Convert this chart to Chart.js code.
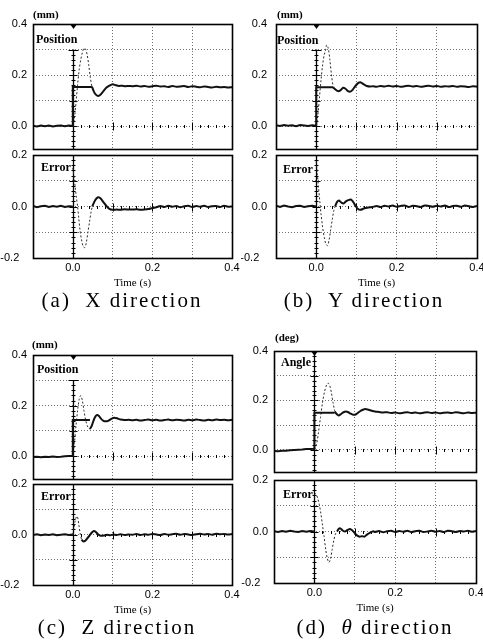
<!DOCTYPE html>
<html><head><meta charset="utf-8">
<script src="https://cdn.jsdelivr.net/npm/chart.js@4"></script>
<style>
html,body{margin:0;padding:0;background:#fff;}
body{width:483px;height:641px;position:relative;overflow:hidden;}
canvas{position:absolute;}
.t{position:absolute;white-space:pre;color:#000;line-height:1;}
.unit{font:bold 11px "Liberation Serif";}
.lab{font:bold 12px "Liberation Serif";}
.cap{font:21px "Liberation Serif";letter-spacing:2px;transform:translate(-50%,-50%);}
</style></head><body>
<script>
// ---------- tick values / labels ----------
const xTickValues = [0, 0.1, 0.2, 0.3, 0.4];
const xTickLabels = ['0.0', '', '0.2', '', '0.4'];
const posTickValues = [0, 0.1, 0.2, 0.3, 0.4];
const posTickLabels = ['0.0', '', '0.2', '', '0.4'];
const errTickValues = [-0.2, -0.1, 0, 0.1, 0.2];
const errTickLabels = ['-0.2', '', '0.0', '', '0.2'];

// ---------- time bases ----------
const preTimes = [-0.1, -0.09, -0.08, -0.07, -0.06, -0.05, -0.04, -0.03, -0.02, -0.01, 0];
const tailTimes = [0.15, 0.16, 0.17, 0.18, 0.19, 0.2, 0.21, 0.22, 0.23, 0.24, 0.25, 0.26, 0.27,
                   0.28, 0.29, 0.3, 0.31, 0.32, 0.33, 0.34, 0.35, 0.36, 0.37, 0.38, 0.39, 0.4];

// ---------- (a) X direction ----------
const aPosLevel = 0.153;
const aPosPre = [0.001, -0.002, 0.002, -0.001, 0.002, -0.002, 0.001, 0.002, -0.001, 0.002, 0.0];
const aPosDotted = [[0,0],[0.004,0.03],[0.008,0.09],[0.012,0.16],[0.016,0.22],[0.02,0.26],[0.024,0.288],[0.028,0.305],[0.032,0.302],[0.036,0.28],[0.04,0.24],[0.044,0.19],[0.048,0.155]];
const aPosSolid = [[0.048,0.155],[0.053,0.135],[0.058,0.123],[0.064,0.118],[0.07,0.124],[0.077,0.137],[0.084,0.15],[0.092,0.158],[0.1,0.164],[0.108,0.16],[0.116,0.157],[0.124,0.158],[0.132,0.156],[0.14,0.157]];
const aPosTail = [0.156,0.158,0.155,0.157,0.154,0.156,0.158,0.155,0.156,0.153,0.157,0.154,0.155,0.157,0.153,0.156,0.154,0.152,0.155,0.153,0.151,0.154,0.152,0.153,0.151,0.152];
const aErrPre = [0.002, -0.003, 0.001, 0.003, -0.002, 0.002, -0.001, 0.003, -0.002, 0.001, 0.0];
const aErrDotted = [[0,0.15],[0.003,0.115],[0.006,0.075],[0.009,0.035],[0.012,0.0],[0.015,-0.045],[0.018,-0.09],[0.022,-0.13],[0.026,-0.155],[0.03,-0.16],[0.034,-0.14],[0.038,-0.1],[0.042,-0.06],[0.046,-0.02],[0.049,0.0]];
const aErrSolid = [[0.049,0.0],[0.054,0.018],[0.06,0.032],[0.065,0.036],[0.07,0.031],[0.077,0.017],[0.084,0.003],[0.091,-0.008],[0.1,-0.013],[0.11,-0.012],[0.12,-0.013],[0.13,-0.011],[0.14,-0.012]];
const aErrTail = [-0.012,-0.011,-0.013,-0.012,-0.01,-0.006,-0.003,0.002,-0.002,0.003,-0.001,0.002,-0.003,0.001,0.003,-0.002,0.002,-0.001,0.003,-0.002,0.001,0.002,-0.002,0.003,-0.001,0.0];

// ---------- (b) Y direction ----------
const bPosLevel = 0.152;
const bPosPre = [0.003, 0.0, 0.004, 0.001, 0.003, -0.001, 0.004, 0.002, 0.0, 0.003, 0.001];
const bPosDotted = [[0,0],[0.004,0.04],[0.008,0.11],[0.012,0.18],[0.016,0.24],[0.02,0.28],[0.023,0.295],[0.026,0.318],[0.03,0.305],[0.034,0.26],[0.038,0.2],[0.042,0.155]];
const bPosSolid = [[0.042,0.152],[0.048,0.143],[0.055,0.136],[0.061,0.141],[0.067,0.15],[0.073,0.146],[0.079,0.137],[0.085,0.135],[0.091,0.143],[0.098,0.158],[0.105,0.169],[0.111,0.171],[0.118,0.164],[0.126,0.157],[0.134,0.155],[0.142,0.156]];
const bPosTail = [0.154,0.157,0.155,0.158,0.155,0.157,0.154,0.156,0.158,0.155,0.157,0.154,0.156,0.158,0.155,0.157,0.154,0.156,0.155,0.157,0.154,0.156,0.155,0.153,0.156,0.154];
const bErrPre = [0.003, -0.002, 0.004, 0.0, -0.003, 0.002, 0.003, -0.002, 0.001, 0.003, 0.0];
const bErrDotted = [[0,0.175],[0.003,0.125],[0.006,0.07],[0.009,0.02],[0.012,-0.03],[0.016,-0.08],[0.02,-0.12],[0.024,-0.145],[0.028,-0.152],[0.032,-0.13],[0.036,-0.09],[0.04,-0.05],[0.044,-0.015],[0.047,0.0]];
const bErrSolid = [[0.047,0.0],[0.052,0.018],[0.057,0.023],[0.062,0.016],[0.068,0.012],[0.074,0.02],[0.08,0.025],[0.086,0.027],[0.092,0.018],[0.098,0.002],[0.104,-0.01],[0.11,-0.013],[0.12,-0.007],[0.13,-0.004],[0.14,-0.002]];
const bErrTail = [0.002,-0.002,0.003,0.0,0.004,-0.001,0.002,0.004,-0.002,0.003,0.001,-0.002,0.004,0.002,-0.001,0.003,0.0,0.004,-0.002,0.002,0.003,-0.001,0.004,0.001,-0.002,0.002];

// ---------- (c) Z direction ----------
const cPosLevel = 0.143;
const cPosPre = [-0.003, -0.002, -0.004, -0.002, -0.003, -0.001, -0.003, -0.002, 0.0, 0.001, 0.002];
const cPosDotted = [[0,0],[0.004,0.05],[0.008,0.12],[0.012,0.18],[0.016,0.225],[0.02,0.24],[0.024,0.22],[0.028,0.18],[0.032,0.145],[0.036,0.122],[0.04,0.11],[0.043,0.108]];
const cPosSolid = [[0.043,0.108],[0.047,0.118],[0.051,0.136],[0.055,0.152],[0.06,0.162],[0.065,0.16],[0.07,0.15],[0.076,0.141],[0.083,0.138],[0.09,0.141],[0.097,0.148],[0.104,0.152],[0.111,0.15],[0.12,0.145],[0.13,0.143],[0.14,0.144]];
const cPosTail = [0.142,0.144,0.141,0.143,0.145,0.142,0.144,0.141,0.143,0.145,0.142,0.144,0.143,0.141,0.144,0.142,0.145,0.143,0.141,0.144,0.142,0.145,0.143,0.144,0.142,0.144];
const cErrPre = [-0.002, 0.001, -0.003, 0.0, -0.002, 0.001, -0.003, -0.001, 0.001, -0.002, 0.0];
const cErrDotted = [[0,0.0],[0.003,0.025],[0.006,0.055],[0.009,0.07],[0.011,0.072],[0.013,0.062],[0.016,0.03],[0.019,0.0],[0.022,-0.02]];
const cErrSolid = [[0.022,-0.02],[0.026,-0.027],[0.031,-0.025],[0.036,-0.016],[0.042,-0.004],[0.048,0.008],[0.053,0.014],[0.058,0.01],[0.064,0.0],[0.07,-0.005],[0.078,-0.004],[0.086,-0.001],[0.094,-0.003],[0.102,0.0],[0.11,-0.002],[0.12,0.001],[0.13,-0.002],[0.14,0.0]];
const cErrTail = [-0.001,0.002,-0.002,0.001,-0.001,0.002,0.0,-0.002,0.002,-0.001,0.001,0.003,-0.001,0.002,0.0,-0.002,0.001,0.003,0.0,0.002,-0.001,0.003,0.001,0.002,0.0,0.002];

// ---------- (d) theta direction ----------
const dPosLevel = 0.15;
const dPosPre = [-0.005, -0.006, -0.004, -0.004, -0.002, -0.001, 0.0, 0.001, 0.003, 0.003, 0.004];
const dPosDotted = [[0,0],[0.005,0.02],[0.01,0.07],[0.015,0.13],[0.02,0.19],[0.025,0.235],[0.03,0.262],[0.034,0.27],[0.038,0.26],[0.042,0.232],[0.046,0.192],[0.05,0.158]];
const dPosSolid = [[0.05,0.155],[0.055,0.145],[0.06,0.139],[0.066,0.145],[0.072,0.152],[0.078,0.155],[0.084,0.152],[0.09,0.146],[0.096,0.142],[0.102,0.143],[0.108,0.15],[0.114,0.157],[0.12,0.162],[0.126,0.165],[0.132,0.163],[0.138,0.16],[0.144,0.157]];
const dPosTail = [0.155,0.153,0.151,0.152,0.149,0.151,0.148,0.15,0.152,0.149,0.151,0.148,0.15,0.152,0.149,0.151,0.148,0.15,0.151,0.149,0.152,0.15,0.148,0.151,0.149,0.15];
const dErrPre = [0.001, -0.002, 0.002, -0.001, 0.003, 0.0, -0.002, 0.002, -0.001, 0.002, 0.0];
const dErrDotted = [[0,0.15],[0.004,0.145],[0.008,0.13],[0.012,0.105],[0.016,0.07],[0.02,0.025],[0.024,-0.02],[0.028,-0.07],[0.032,-0.105],[0.036,-0.12],[0.04,-0.105],[0.044,-0.07],[0.048,-0.035],[0.052,-0.01],[0.056,0.0]];
const dErrSolid = [[0.056,0.0],[0.06,0.01],[0.064,0.012],[0.07,0.004],[0.076,0.0],[0.082,0.006],[0.088,0.01],[0.094,0.004],[0.1,-0.006],[0.106,-0.016],[0.112,-0.02],[0.118,-0.018],[0.124,-0.02],[0.13,-0.012],[0.138,-0.004],[0.146,0.001]];
const dErrTail = [-0.002,0.002,-0.003,0.001,0.003,-0.002,0.002,-0.001,0.003,-0.002,0.001,0.003,-0.002,0.0,0.003,-0.001,0.002,-0.002,0.003,0.001,-0.002,0.002,0.0,0.003,-0.001,0.002];

// ---------- helpers ----------
const zip = (ts, vs) => ts.map((t, i) => ({x: t, y: vs[i]}));
const pairs = arr => arr.map(p => ({x: p[0], y: p[1]}));
const near = (a, b) => Math.abs(a - b) < 1e-9;

function posDatasets(pre, level, dotted, solid, tail) {
  const refPts = zip(preTimes, pre).concat([{x: 0, y: level}, {x: dotted[dotted.length - 1][0], y: level}]);
  return [
    {data: refPts, tension: 0},
    {data: pairs(solid).concat(zip(tailTimes, tail)), tension: 0.25},
    {data: pairs(dotted), tension: 0.3, dotted: true}
  ];
}
function errDatasets(pre, dotted, solid, tail) {
  return [
    {data: zip(preTimes, pre), tension: 0},
    {data: pairs(solid).concat(zip(tailTimes, tail)), tension: 0.25},
    {data: pairs(dotted), tension: 0.3, dotted: true}
  ];
}

const axesPlugin = {
  id: 'axes',
  beforeDatasetsDraw(chart, args, o) {
    const {ctx, chartArea: a} = chart;
    const xs = chart.scales.x, ys = chart.scales.y;
    const x0 = Math.round(xs.getPixelForValue(0)) + 0.5;
    const y0 = Math.round(ys.getPixelForValue(0)) + 0.5;
    const yTop = o.axisTop >= ys.max ? a.top : ys.getPixelForValue(o.axisTop);
    ctx.save();
    ctx.strokeStyle = '#000';
    ctx.fillStyle = '#000';
    ctx.lineWidth = 1.3;
    ctx.beginPath(); ctx.moveTo(x0, yTop); ctx.lineTo(x0, a.bottom); ctx.stroke();
    ctx.lineWidth = 1;
    const step = 0.02;
    const kLo = Math.ceil(ys.min / step - 1e-6), kHi = Math.floor(o.axisTop / step + 1e-6);
    for (let k = kLo; k <= kHi; k++) {
      const v = k * step;
      if (v >= ys.max - 1e-9 || v <= ys.min + 1e-9) continue;
      const py = Math.round(ys.getPixelForValue(v)) + 0.5;
      const major = Math.abs(v * 10 - Math.round(v * 10)) < 1e-6;
      const hw = (o.kind === 'pos' && k === kHi) ? 5 : (major ? 4 : 2);
      ctx.beginPath(); ctx.moveTo(x0 - hw, py); ctx.lineTo(x0 + hw, py); ctx.stroke();
    }
    for (let k = 1; k < 20; k++) {
      const t = k * step;
      const px = Math.round(xs.getPixelForValue(t)) + 0.5;
      const hh = k % 5 === 0 ? 4 : 1.5;
      ctx.beginPath(); ctx.moveTo(px, y0 - hh); ctx.lineTo(px, y0 + hh); ctx.stroke();
    }
    if (o.kind === 'pos') {
      ctx.beginPath();
      ctx.moveTo(x0 - 3.5, a.top); ctx.lineTo(x0 + 3.5, a.top); ctx.lineTo(x0, a.top + 5);
      ctx.closePath(); ctx.fill();
    }
    ctx.restore();
  },
  afterDraw(chart) {
    const {ctx, chartArea: a} = chart;
    ctx.save();
    ctx.strokeStyle = '#000';
    ctx.lineWidth = 1.6;
    ctx.strokeRect(Math.round(a.left) + 0.5, Math.round(a.top) + 0.5, Math.round(a.right - a.left), Math.round(a.bottom - a.top));
    ctx.restore();
  }
};

const PADT = 10, PADR = 12, PADB = 10, XAXH = 34;

const subplots = [
  {kind: 'pos', panelLeft: 0,   box: [33, 24, 232, 149],  yMin: -0.09, axisTop: 0.3, labPad: 6, sets: posDatasets(aPosPre, aPosLevel, aPosDotted, aPosSolid, aPosTail)},
  {kind: 'err', panelLeft: 0,   box: [33, 155, 232, 258], yMin: -0.2,  axisTop: 0.2, labPad: 6, sets: errDatasets(aErrPre, aErrDotted, aErrSolid, aErrTail)},
  {kind: 'pos', panelLeft: 241, box: [276, 24, 477, 149], yMin: -0.09, axisTop: 0.3, labPad: 9, sets: posDatasets(bPosPre, bPosLevel, bPosDotted, bPosSolid, bPosTail)},
  {kind: 'err', panelLeft: 241, box: [276, 155, 477, 258],yMin: -0.2,  axisTop: 0.2, labPad: 9, sets: errDatasets(bErrPre, bErrDotted, bErrSolid, bErrTail)},
  {kind: 'pos', panelLeft: 0,   box: [33, 355, 232, 479], yMin: -0.09, axisTop: 0.3, labPad: 6, sets: posDatasets(cPosPre, cPosLevel, cPosDotted, cPosSolid, cPosTail)},
  {kind: 'err', panelLeft: 0,   box: [33, 484, 232, 585], yMin: -0.2,  axisTop: 0.2, labPad: 6, sets: errDatasets(cErrPre, cErrDotted, cErrSolid, cErrTail)},
  {kind: 'pos', panelLeft: 241, box: [274, 351, 476, 472],yMin: -0.09, axisTop: 0.4, labPad: 6, sets: posDatasets(dPosPre, dPosLevel, dPosDotted, dPosSolid, dPosTail)},
  {kind: 'err', panelLeft: 241, box: [274, 480, 476, 583],yMin: -0.2,  axisTop: 0.2, labPad: 6, sets: errDatasets(dErrPre, dErrDotted, dErrSolid, dErrTail)}
];

const tickFont = {family: 'Liberation Sans', size: 11};

subplots.forEach(sp => {
  const isErr = sp.kind === 'err';
  const [L, T, R, B] = sp.box;
  const cv = document.createElement('canvas');
  const cLeft = sp.panelLeft, cTop = T - PADT;
  const w = R - cLeft + PADR;
  const h = (B - T) + PADT + (isErr ? XAXH : PADB);
  cv.width = w; cv.height = h;
  cv.style.left = cLeft + 'px'; cv.style.top = cTop + 'px';
  document.body.appendChild(cv);
  const yVals = isErr ? errTickValues : posTickValues;
  const yLabs = isErr ? errTickLabels : posTickLabels;
  const yMax = isErr ? 0.2 : 0.4;
  new Chart(cv, {
    type: 'line',
    data: {
      datasets: sp.sets.map(s => ({
        data: s.data,
        parsing: false,
        tension: s.tension,
        borderColor: s.dotted ? '#2a2a2a' : '#111',
        borderWidth: s.dotted ? 1 : 2,
        borderDash: s.dotted ? [2, 2] : [],
        pointRadius: 0,
        fill: false
      }))
    },
    options: {
      responsive: false, animation: false, events: [],
      layout: {padding: {top: PADT, right: PADR, left: 0, bottom: isErr ? 0 : PADB}},
      plugins: {legend: {display: false}, tooltip: {enabled: false}, axes: {kind: sp.kind, axisTop: sp.axisTop}},
      scales: {
        x: {
          type: 'linear', min: -0.1, max: 0.4,
          afterBuildTicks: s => { s.ticks = xTickValues.map(v => ({value: v})); },
          afterFit: s => { s.height = isErr ? XAXH : 0; s.paddingLeft = 0; s.paddingRight = 0; },
          ticks: {display: isErr, autoSkip: false, maxRotation: 0, minRotation: 0, padding: 3, color: '#000', font: tickFont,
                  callback: (v, i) => xTickLabels[i]},
          grid: {drawTicks: false, lineWidth: 1,
                 color: c => (c.tick && (near(c.tick.value, 0) || near(c.tick.value, 0.4))) ? 'rgba(0,0,0,0)' : '#707070'},
          border: {display: false, dash: [1, 2]},
          title: {display: isErr, text: 'Time (s)', color: '#000', padding: {top: 0, bottom: 2},
                  font: {family: 'Liberation Serif', size: 11}}
        },
        y: {
          type: 'linear', min: sp.yMin, max: yMax,
          afterBuildTicks: s => { s.ticks = yVals.map(v => ({value: v})); },
          afterFit: s => { s.width = L - cLeft; s.paddingTop = 0; s.paddingBottom = 0; },
          ticks: {autoSkip: false, padding: sp.labPad, color: '#000', font: tickFont,
                  callback: (v, i) => (v < 0 && yLabs[i]) ? yLabs[i] + '\u2002\u2009' : yLabs[i]},
          grid: {drawTicks: false, lineWidth: 1,
                 color: c => (c.tick && (near(c.tick.value, yMax) || near(c.tick.value, sp.yMin))) ? 'rgba(0,0,0,0)' : '#707070'},
          border: {display: false, dash: [1, 2]}
        }
      }
    },
    plugins: [axesPlugin]
  });
});

// ---------- text labels ----------
const texts = [
  ['(mm)', 'unit', 33, 8], ['Position', 'lab', 36, 32], ['Error', 'lab', 41, 160],
  ['(mm)', 'unit', 277, 8], ['Position', 'lab', 277, 33], ['Error', 'lab', 283, 162],
  ['(mm)', 'unit', 32, 338], ['Position', 'lab', 37, 362], ['Error', 'lab', 41, 489],
  ['(deg)', 'unit', 275, 331], ['Angle', 'lab', 281, 355], ['Error', 'lab', 283, 487]
];
texts.forEach(([s, cls, x, y]) => {
  const d = document.createElement('div');
  d.className = 't ' + cls; d.textContent = s;
  d.style.left = x + 'px'; d.style.top = y + 'px';
  document.body.appendChild(d);
});
const captions = [
  ['(a)  X direction', 122, 300], ['(b)  Y direction', 364, 300],
  ['(c)  Z direction', 117, 627], ['(d)  <i>θ</i> direction', 375, 627]
];
captions.forEach(([s, x, y]) => {
  const d = document.createElement('div');
  d.className = 't cap'; d.innerHTML = s;
  d.style.left = x + 'px'; d.style.top = y + 'px';
  document.body.appendChild(d);
});
</script>
</body></html>
